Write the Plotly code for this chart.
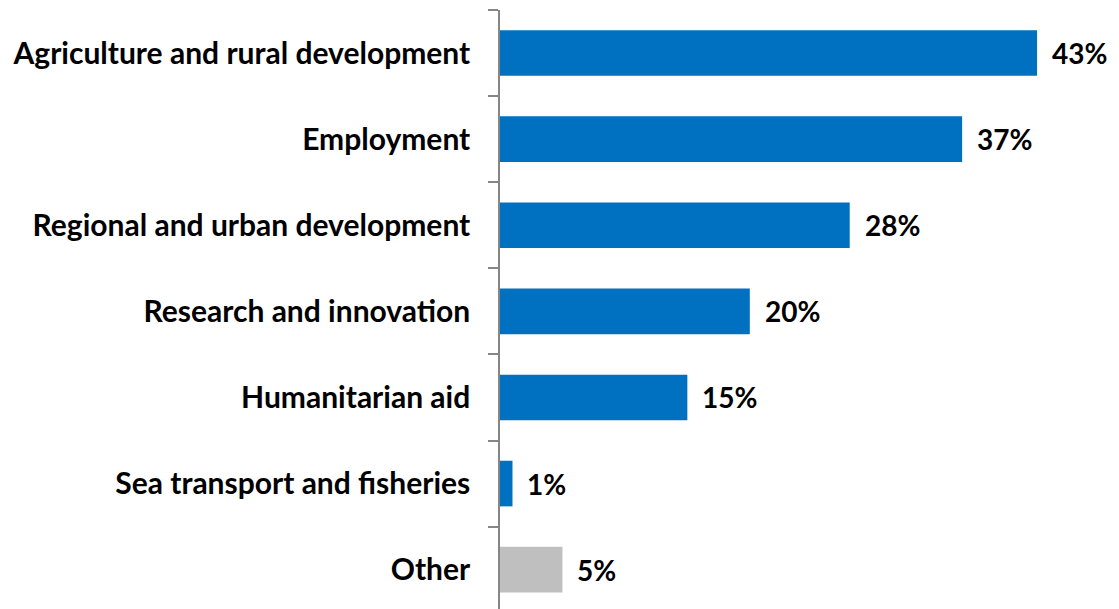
import plotly.graph_objects as go

categories = ["Agriculture and rural development", "Employment", "Regional and urban development",
              "Research and innovation", "Humanitarian aid", "Sea transport and fisheries", "Other"]
values = [43, 37, 28, 20, 15, 1, 5]
labels = ["43%", "37%", "28%", "20%", "15%", "1%", "5%"]
colors = ["#0070C0"] * 6 + ["#BFBFBF"]

FONT = "Lato"

fig = go.Figure(go.Bar(
    x=values, y=categories, orientation="h",
    marker=dict(color=colors, line=dict(width=0)),
    width=0.53,
))

for c, v, t in zip(categories, values, labels):
    fig.add_annotation(x=v, y=c, text=f"<b>{t}</b>", showarrow=False,
                       xanchor="left", xshift=13,
                       font=dict(family=FONT, size=28, color="black"))

fig.update_layout(
    width=1119, height=609,
    margin=dict(l=500, r=0, t=10, b=0),
    paper_bgcolor="white", plot_bgcolor="white",
    showlegend=False,
    font=dict(family=FONT, size=30, color="black"),
    xaxis=dict(range=[0, 619 / 12.49], visible=False, showgrid=False, zeroline=False),
    yaxis=dict(range=[6.457, -0.5], showline=True, linecolor="#868686", linewidth=1.5,
               ticks="outside", tickson="boundaries", ticklen=10, tickcolor="#868686",
               tickwidth=1.5, showgrid=False, automargin=False,
               ticklabelstandoff=22,
               tickfont=dict(family=FONT, size=30, color="black", weight="bold")),
    bargap=0.47,
)

fig.write_html("out.html")
